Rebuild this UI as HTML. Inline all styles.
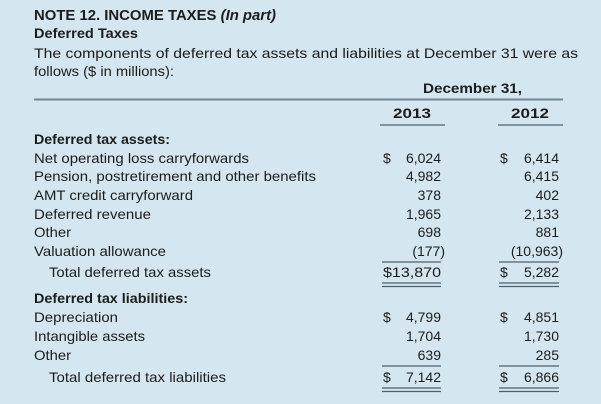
<!DOCTYPE html>
<html><head><meta charset="utf-8"><style>
html,body{margin:0;padding:0;background:#d4e6ef;}
svg{display:block;font-family:"Liberation Sans",sans-serif;}
text{fill:#1c1c1c;font-size:14px;}
.b{font-weight:bold;}
.r{text-anchor:end;}
line{stroke:#4d5f6b;stroke-width:1.3;}
</style></head><body>
<svg width="601" height="404" viewBox="0 0 601 404">
<rect width="601" height="404" fill="#d4e6ef"/>
<text x="34" y="20" class="b" style="font-size:14.5px" textLength="242" lengthAdjust="spacingAndGlyphs">NOTE 12. INCOME TAXES <tspan font-style="italic">(In part)</tspan></text>
<text x="34" y="38" class="b" textLength="104" lengthAdjust="spacingAndGlyphs">Deferred Taxes</text>
<text x="34" y="58" textLength="544" lengthAdjust="spacingAndGlyphs">The components of deferred tax assets and liabilities at December 31 were as</text>
<text x="34" y="76" textLength="140" lengthAdjust="spacingAndGlyphs">follows ($ in millions):</text>
<text x="423" y="93" class="b" textLength="99" lengthAdjust="spacingAndGlyphs">December 31,</text>
<line x1="34" y1="99.5" x2="563" y2="99.5" style="stroke:#6f8797;stroke-width:2"/>
<text x="393" y="118" class="b" textLength="38" lengthAdjust="spacingAndGlyphs">2013</text>
<text x="511" y="118" class="b" textLength="38" lengthAdjust="spacingAndGlyphs">2012</text>
<line x1="380" y1="125" x2="445" y2="125"/>
<line x1="498" y1="125" x2="563" y2="125"/>

<text x="34" y="144" class="b" textLength="136" lengthAdjust="spacingAndGlyphs">Deferred tax assets:</text>
<text x="34" y="163" textLength="215" lengthAdjust="spacingAndGlyphs">Net operating loss carryforwards</text>
<text x="34" y="181" textLength="282" lengthAdjust="spacingAndGlyphs">Pension, postretirement and other benefits</text>
<text x="34" y="200" textLength="159" lengthAdjust="spacingAndGlyphs">AMT credit carryforward</text>
<text x="34" y="219" textLength="117" lengthAdjust="spacingAndGlyphs">Deferred revenue</text>
<text x="34" y="237" textLength="37" lengthAdjust="spacingAndGlyphs">Other</text>
<text x="34" y="256" textLength="132" lengthAdjust="spacingAndGlyphs">Valuation allowance</text>
<text x="49" y="277" textLength="162" lengthAdjust="spacingAndGlyphs">Total deferred tax assets</text>

<text x="383" y="163">$</text><text x="441" y="163" class="r">6,024</text>
<text x="500" y="163">$</text><text x="559" y="163" class="r">6,414</text>
<text x="441" y="181" class="r">4,982</text><text x="559" y="181" class="r">6,415</text>
<text x="441" y="200" class="r">378</text><text x="559" y="200" class="r">402</text>
<text x="441" y="219" class="r">1,965</text><text x="559" y="219" class="r">2,133</text>
<text x="441" y="237" class="r">698</text><text x="559" y="237" class="r">881</text>
<text x="445" y="256" class="r">(177)</text><text x="563" y="256" class="r">(10,963)</text>
<line x1="382" y1="262" x2="441" y2="262"/>
<line x1="499" y1="262" x2="559" y2="262"/>
<text x="383" y="277" textLength="58" lengthAdjust="spacingAndGlyphs">$13,870</text>
<text x="500" y="277">$</text><text x="559" y="277" class="r">5,282</text>
<line x1="382" y1="283" x2="441" y2="283"/><line x1="382" y1="286.5" x2="441" y2="286.5"/>
<line x1="499" y1="283" x2="559" y2="283"/><line x1="499" y1="286.5" x2="559" y2="286.5"/>

<text x="34" y="303" class="b" textLength="154" lengthAdjust="spacingAndGlyphs">Deferred tax liabilities:</text>
<text x="34" y="322" textLength="84" lengthAdjust="spacingAndGlyphs">Depreciation</text>
<text x="34" y="341" textLength="111" lengthAdjust="spacingAndGlyphs">Intangible assets</text>
<text x="34" y="360" textLength="37" lengthAdjust="spacingAndGlyphs">Other</text>
<text x="49" y="382" textLength="177" lengthAdjust="spacingAndGlyphs">Total deferred tax liabilities</text>

<text x="383" y="322">$</text><text x="441" y="322" class="r">4,799</text>
<text x="500" y="322">$</text><text x="559" y="322" class="r">4,851</text>
<text x="441" y="341" class="r">1,704</text><text x="559" y="341" class="r">1,730</text>
<text x="441" y="360" class="r">639</text><text x="559" y="360" class="r">285</text>
<line x1="382" y1="366" x2="441" y2="366"/>
<line x1="499" y1="366" x2="559" y2="366"/>
<text x="383" y="382">$</text><text x="441" y="382" class="r">7,142</text>
<text x="500" y="382">$</text><text x="559" y="382" class="r">6,866</text>
<line x1="382" y1="388" x2="441" y2="388"/><line x1="382" y1="391.5" x2="441" y2="391.5"/>
<line x1="499" y1="388" x2="559" y2="388"/><line x1="499" y1="391.5" x2="559" y2="391.5"/>
</svg>
</body></html>
